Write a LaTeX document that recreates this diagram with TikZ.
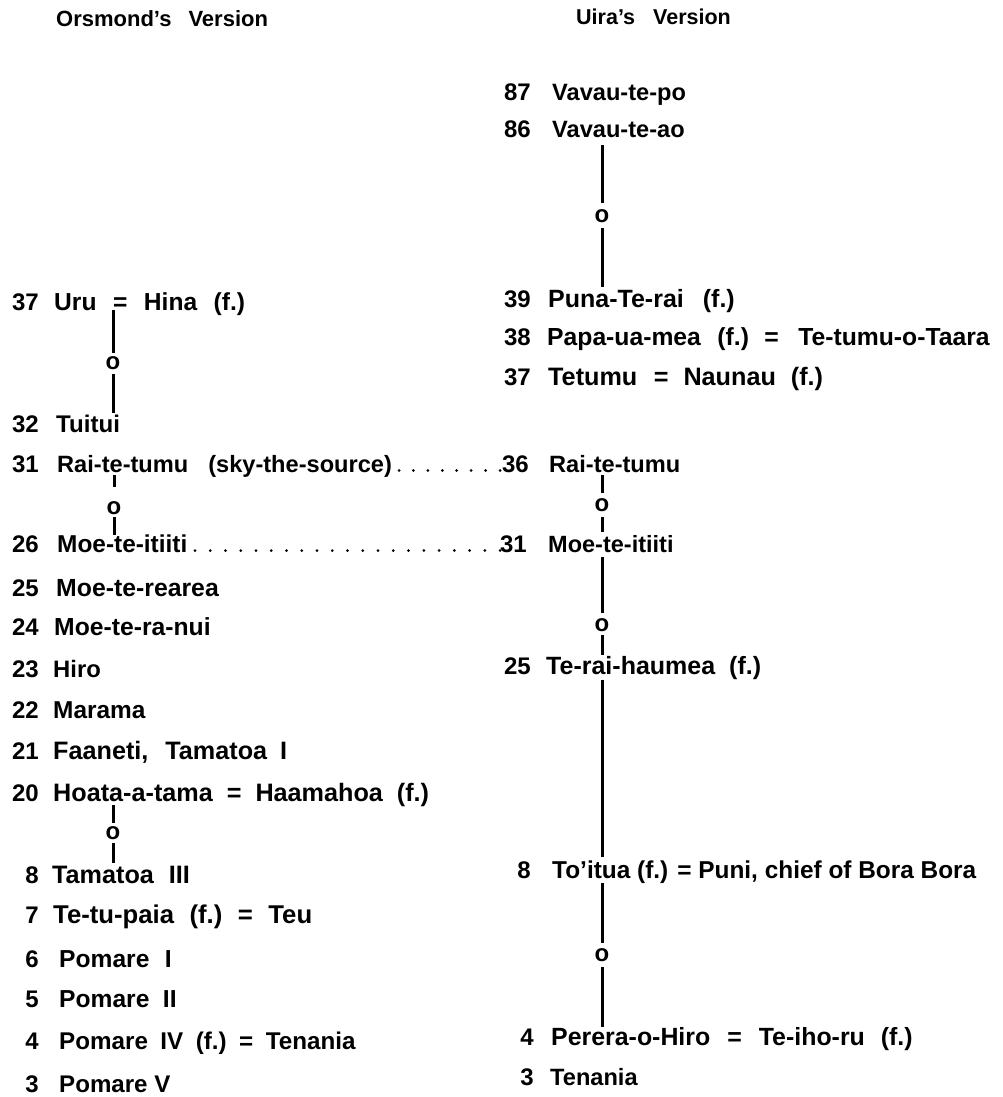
\documentclass[tikz,border=0pt]{standalone}
\usepackage{fontspec}
\setmainfont{Liberation Sans}
\newcommand\gp[1]{\hspace{#1pt}}
\begin{document}
\begin{tikzpicture}[x=1pt,y=-1pt,
  nm/.style={font=\fontsize{#1}{28}\selectfont\bfseries,inner sep=0pt,anchor=base west},
  nm/.default=24.2,
  num/.style={font=\fontsize{24}{28}\selectfont\bfseries,inner sep=0pt,anchor=base east},
  hd/.style={font=\fontsize{#1}{26}\selectfont\bfseries,inner sep=0pt,anchor=base west},
  om/.style={font=\fontsize{24}{28}\selectfont\bfseries,inner sep=0pt},
  lin/.style={line width=3pt},
  dotline/.style={line width=3pt,line cap=round}]
\useasboundingbox (0,0) rectangle (1003,1097);
% headers
\node[hd=22] (hL) at (56,27) {Orsmond’s\gp{17}Version};
\node[hd=21.5] (hR) at (576,25) {Uira’s\gp{18}Version};
% left column
\node[num] (l37n) at (39,310) {37}; \node[nm=24.6] (l37) at (54,310) {Uru\gp{16.5}=\gp{16.5}Hina\gp{16.5}(f.)};
\node[num] (l32n) at (39,432) {32}; \node[nm=24.1] (l32) at (56,432) {Tuitui};
\node[num] (l31n) at (39,472) {31}; \node[nm=23.6] (l31) at (57,472) {Rai-te-tumu\gp{20}(sky-the-source)};
\node[num] (l26n) at (39,552) {26}; \node[nm=24.4] (l26) at (57,552) {Moe-te-itiiti};
\node[num] (l25n) at (39,596) {25}; \node[nm=24.8] (l25) at (56,596) {Moe-te-rearea};
\node[num] (l24n) at (39,635) {24}; \node[nm=24.7] (l24) at (54,635) {Moe-te-ra-nui};
\node[num] (l23n) at (39,677) {23}; \node[nm=23.8] (l23) at (53,677) {Hiro};
\node[num] (l22n) at (39,718) {22}; \node[nm=24.4] (l22) at (53,718) {Marama};
\node[num] (l21n) at (39,759) {21}; \node[nm=25.2] (l21) at (53,759) {Faaneti,\gp{17}Tamatoa\gp{13}I};
\node[num] (l20n) at (39,801) {20}; \node[nm=25.2] (l20) at (53,801) {Hoata-a-tama\gp{14}=\gp{14}Haamahoa\gp{14}(f.)};
\node[num] (l8n) at (39,883) {8}; \node[nm=25.2] (l8) at (52,883) {Tamatoa\gp{15}III};
\node[num] (l7n) at (39,923) {7}; \node[nm=25.7] (l7) at (53,923) {Te-tu-paia\gp{15.5}(f.)\gp{15.5}=\gp{15.5}Teu};
\node[num] (l6n) at (39,967) {6}; \node[nm=24.6] (l6) at (59,967) {Pomare\gp{15.5}I};
\node[num] (l5n) at (39,1007) {5}; \node[nm=24.6] (l5) at (59,1007) {Pomare\gp{13.5}II};
\node[num] (l4n) at (39,1049) {4}; \node[nm=24.2] (l4) at (59,1049) {Pomare\gp{12.5}IV\gp{12.5}(f.)\gp{12.5}=\gp{12.5}Tenania};
\node[num] (l3n) at (39,1092) {3}; \node[nm=24.1] (l3) at (59,1092) {Pomare V};
% right column
\node[num] (r87n) at (531,101) {87}; \node[nm=23.6] (r87) at (552,101) {Vavau-te-po};
\node[num] (r86n) at (531,137) {86}; \node[nm=23.6] (r86) at (552,137) {Vavau-te-ao};
\node[num] (r39n) at (531,307) {39}; \node[nm=25] (r39) at (548,307) {Puna-Te-rai\gp{19}(f.)};
\node[num] (r38n) at (531,345) {38}; \node[nm=24.7] (r38) at (547,345) {Papa-ua-mea\gp{16.5}(f.)\gp{15.5}=\gp{19.5}Te-tumu-o-Taara};
\node[num] (r37n) at (531,385) {37}; \node[nm=25.2] (r37) at (548,385) {Tetumu\gp{16.5}=\gp{15}Naunau\gp{15}(f.)};
\node[num] (r36n) at (529,472) {36}; \node[nm=23.6] (r36) at (549,472) {Rai-te-tumu};
\node[num] (r31n) at (527,552) {31}; \node[nm=23.5] (r31) at (548,552) {Moe-te-itiiti};
\node[num] (r25n) at (531,674) {25}; \node[nm=25] (r25) at (546,674) {Te-rai-haumea\gp{14}(f.)};
\node[num] (r8n) at (531,878) {8}; \node[nm=24.4] (r8) at (552,878) {To’itua (f.) = Puni, chief of Bora Bora};
\node[num] (r4n) at (534,1045) {4}; \node[nm=24.9] (r4) at (551,1045) {Perera-o-Hiro\gp{17}=\gp{17}Te-iho-ru\gp{16}(f.)};
\node[num] (r3n) at (534,1085) {3}; \node[nm=23.6] (r3) at (550,1085) {Tenania};
% descent markers
\node[om] (oA) at (113,363) {o};
\node[om] (oB) at (114,508) {o};
\node[om] (oC) at (113,833) {o};
\node[om] (oD) at (602,216) {o};
\node[om] (oE) at (602,505) {o};
\node[om] (oF) at (602,625) {o};
\node[om] (oH) at (602,955) {o};
% line end points
\coordinate (a1) at (113,310); \coordinate (a2) at (113,353); \coordinate (a3) at (113,374); \coordinate (a4) at (113,413);
\coordinate (b1) at (114,475); \coordinate (b2) at (114,487); \coordinate (b3) at (114,517); \coordinate (b4) at (114,535);
\coordinate (c1) at (113,805); \coordinate (c2) at (113,823); \coordinate (c3) at (113,843); \coordinate (c4) at (113,863);
\coordinate (d1) at (602,145); \coordinate (d2) at (602,203); \coordinate (d3) at (602,228); \coordinate (d4) at (602,287);
\coordinate (e1) at (602,475); \coordinate (e2) at (602,493); \coordinate (e3) at (602,517); \coordinate (e4) at (602,532);
\coordinate (f1) at (602,557); \coordinate (f2) at (602,613); \coordinate (f3) at (602,635); \coordinate (f4) at (602,655);
\coordinate (g1) at (602,680); \coordinate (g2) at (602,857);
\coordinate (h1) at (602,883); \coordinate (h2) at (602,943); \coordinate (h3) at (602,967); \coordinate (h4) at (602,1027);
\draw[lin] (a1) -- (a2); \draw[lin] (a3) -- (a4);
\draw[lin] (b1) -- (b2); \draw[lin] (b3) -- (b4);
\draw[lin] (c1) -- (c2); \draw[lin] (c3) -- (c4);
\draw[lin] (d1) -- (d2); \draw[lin] (d3) -- (d4);
\draw[lin] (e1) -- (e2); \draw[lin] (e3) -- (e4);
\draw[lin] (f1) -- (f2); \draw[lin] (f3) -- (f4);
\draw[lin] (g1) -- (g2);
\draw[lin] (h1) -- (h2); \draw[lin] (h3) -- (h4);
% dotted leaders
\coordinate (p1) at (399,470.5); \coordinate (p2) at (500.5,470.5);
\coordinate (q1) at (195,550.5); \coordinate (q2) at (500.5,550.5);
\draw[dotline,dash pattern=on 0pt off 14.43pt] (p1) -- (p2);
\draw[dotline,dash pattern=on 0pt off 15.25pt] (q1) -- (q2);
\end{tikzpicture}
\end{document}
